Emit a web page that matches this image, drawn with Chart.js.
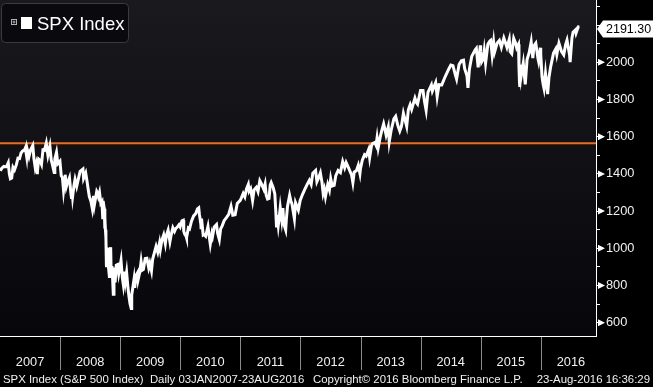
<!DOCTYPE html>
<html><head><meta charset="utf-8">
<script src="https://cdn.jsdelivr.net/npm/chart.js@4.4.0/dist/chart.umd.min.js"></script>
<style>html,body{margin:0;padding:0;background:#000;overflow:hidden}#wrap{width:653px;height:387px;position:relative}</style>
</head><body><div id="wrap"><canvas id="c" width="653" height="387"></canvas></div>
<script>
const dates = [
"2007-01-03","2007-01-12","2007-01-24","2007-01-31","2007-02-09","2007-02-20","2007-02-27","2007-03-05","2007-03-13","2007-03-21","2007-03-30","2007-04-10","2007-04-20","2007-04-30","2007-05-09","2007-05-18","2007-05-31","2007-06-04","2007-06-12","2007-06-15","2007-06-26","2007-07-06","2007-07-19","2007-07-26","2007-08-03","2007-08-09","2007-08-15","2007-08-16","2007-08-24","2007-08-31","2007-09-10","2007-09-19","2007-09-28","2007-10-09","2007-10-19","2007-10-31","2007-11-08","2007-11-15","2007-11-26","2007-11-30","2007-12-10","2007-12-18","2007-12-31",
"2008-01-08","2008-01-15","2008-01-22","2008-01-31","2008-02-01","2008-02-08","2008-02-14","2008-02-27","2008-03-07","2008-03-10","2008-03-13","2008-03-17","2008-03-26","2008-04-01","2008-04-11","2008-04-22","2008-05-02","2008-05-19","2008-05-23","2008-06-05","2008-06-13","2008-06-20","2008-06-27","2008-07-07","2008-07-15","2008-07-23","2008-07-28","2008-08-11","2008-08-15","2008-08-21","2008-08-28","2008-09-05","2008-09-12","2008-09-15","2008-09-17","2008-09-19","2008-09-26","2008-09-29","2008-09-30","2008-10-03","2008-10-06","2008-10-09","2008-10-10","2008-10-13","2008-10-16","2008-10-22","2008-10-27","2008-10-28","2008-11-04","2008-11-06","2008-11-12","2008-11-14","2008-11-20","2008-11-24","2008-11-28","2008-12-01","2008-12-08","2008-12-16","2008-12-23","2008-12-31",
"2009-01-06","2009-01-14","2009-01-20","2009-01-28","2009-02-02","2009-02-09","2009-02-17","2009-02-23","2009-03-02","2009-03-09","2009-03-12","2009-03-17","2009-03-26","2009-03-30","2009-04-09","2009-04-17","2009-04-20","2009-04-30","2009-05-08","2009-05-15","2009-05-22","2009-06-02","2009-06-12","2009-06-23","2009-06-30","2009-07-10","2009-07-17","2009-07-31","2009-08-07","2009-08-17","2009-08-28","2009-09-02","2009-09-11","2009-09-22","2009-10-02","2009-10-09","2009-10-19","2009-10-30","2009-11-06","2009-11-17","2009-11-27","2009-12-04","2009-12-14","2009-12-24","2009-12-31",
"2010-01-11","2010-01-19","2010-01-22","2010-01-29","2010-02-05","2010-02-08","2010-02-19","2010-02-26","2010-03-10","2010-03-23","2010-04-05","2010-04-15","2010-04-23","2010-04-27","2010-05-06","2010-05-07","2010-05-10","2010-05-20","2010-05-25","2010-06-04","2010-06-18","2010-06-29","2010-07-02","2010-07-12","2010-07-16","2010-07-26","2010-08-09","2010-08-16","2010-08-26","2010-09-03","2010-09-13","2010-09-24","2010-10-08","2010-10-22","2010-11-05","2010-11-16","2010-11-30","2010-12-13","2010-12-31",
"2011-01-07","2011-01-18","2011-01-28","2011-02-07","2011-02-18","2011-02-23","2011-03-04","2011-03-16","2011-03-25","2011-04-08","2011-04-18","2011-04-29","2011-05-09","2011-05-23","2011-05-31","2011-06-07","2011-06-15","2011-06-24","2011-07-01","2011-07-07","2011-07-19","2011-07-29","2011-08-04","2011-08-08","2011-08-10","2011-08-12","2011-08-19","2011-08-26","2011-08-31","2011-09-09","2011-09-16","2011-09-22","2011-10-03","2011-10-07","2011-10-14","2011-10-27","2011-11-04","2011-11-10","2011-11-25","2011-12-02","2011-12-19","2011-12-30",
"2012-01-13","2012-01-27","2012-02-10","2012-02-24","2012-03-06","2012-03-16","2012-04-02","2012-04-10","2012-04-20","2012-05-01","2012-05-11","2012-05-18","2012-05-25","2012-06-01","2012-06-15","2012-06-25","2012-07-03","2012-07-12","2012-07-24","2012-08-03","2012-08-17","2012-08-31","2012-09-14","2012-09-26","2012-10-05","2012-10-19","2012-11-07","2012-11-15","2012-11-23","2012-12-07","2012-12-18","2012-12-28","2012-12-31",
"2013-01-11","2013-01-25","2013-02-04","2013-02-19","2013-02-25","2013-03-08","2013-03-14","2013-03-28","2013-04-05","2013-04-11","2013-04-18","2013-04-30","2013-05-10","2013-05-21","2013-05-31","2013-06-05","2013-06-18","2013-06-24","2013-07-05","2013-07-22","2013-08-02","2013-08-15","2013-08-27","2013-09-06","2013-09-18","2013-10-08","2013-10-18","2013-10-29","2013-11-07","2013-11-27","2013-12-05","2013-12-13","2013-12-31",
"2014-01-15","2014-01-24","2014-02-03","2014-02-14","2014-03-07","2014-03-13","2014-04-02","2014-04-11","2014-04-22","2014-05-09","2014-05-30","2014-06-20","2014-07-03","2014-07-16","2014-07-31","2014-08-07","2014-08-22","2014-09-05","2014-09-18","2014-09-25","2014-10-09","2014-10-15","2014-10-24","2014-11-07","2014-11-28","2014-12-05","2014-12-16","2014-12-29","2014-12-31",
"2015-01-06","2015-01-16","2015-01-22","2015-01-30","2015-02-13","2015-02-25","2015-03-02","2015-03-11","2015-03-20","2015-03-26","2015-04-10","2015-04-24","2015-05-06","2015-05-21","2015-06-09","2015-06-23","2015-06-29","2015-07-08","2015-07-20","2015-07-31","2015-08-07","2015-08-18","2015-08-21","2015-08-24","2015-08-25","2015-08-27","2015-09-01","2015-09-16","2015-09-28","2015-10-09","2015-10-22","2015-11-03","2015-11-13","2015-11-20","2015-12-01","2015-12-14","2015-12-18","2015-12-29","2015-12-31",
"2016-01-08","2016-01-15","2016-01-20","2016-01-29","2016-02-05","2016-02-11","2016-02-19","2016-03-01","2016-03-18","2016-04-01","2016-04-07","2016-04-20","2016-05-06","2016-05-19","2016-05-31","2016-06-08","2016-06-16","2016-06-24","2016-06-27","2016-07-08","2016-07-15","2016-07-29","2016-08-02","2016-08-15","2016-08-23"
];
const closes = [
1416.6,1430.7,1440.1,1438.2,1438.1,1459.7,1399.0,1374.1,1377.9,1435.0,1420.9,1448.4,1484.4,1482.4,1512.6,1522.8,1530.6,1539.2,1493.0,1532.9,1492.9,1530.4,1553.1,1482.7,1433.1,1453.6,1406.7,1411.3,1479.4,1473.9,1451.7,1529.0,1526.8,1565.2,1500.6,1549.4,1474.8,1451.2,1407.2,1481.1,1516.0,1455.0,1468.4,
1390.2,1380.9,1310.5,1378.6,1395.4,1331.3,1348.9,1380.0,1293.4,1273.4,1315.5,1276.6,1341.1,1370.2,1332.8,1375.9,1413.9,1426.6,1375.9,1404.1,1360.0,1317.9,1278.4,1252.3,1214.9,1282.2,1234.4,1305.3,1298.2,1277.7,1300.7,1242.3,1251.7,1192.7,1156.4,1255.1,1213.3,1106.4,1166.4,1099.2,1056.9,909.9,899.2,1003.4,946.4,896.8,848.9,940.5,1005.8,904.9,852.3,873.3,752.4,851.8,896.2,816.2,909.7,913.2,863.2,903.3,
934.7,842.6,805.2,874.1,825.4,869.9,789.2,743.3,700.8,676.5,750.7,778.1,832.9,787.5,856.6,869.6,832.4,872.8,929.2,882.9,887.0,944.7,946.2,895.1,919.3,879.1,940.4,987.5,1010.5,979.7,1028.9,994.8,1042.7,1071.7,1025.2,1071.5,1097.9,1036.2,1069.3,1110.3,1091.5,1106.0,1114.1,1126.5,1115.1,
1147.0,1150.2,1091.8,1073.9,1066.2,1056.7,1109.2,1104.5,1145.6,1174.2,1187.4,1211.7,1217.3,1183.7,1128.2,1110.9,1159.7,1071.6,1074.0,1064.9,1117.5,1041.2,1022.6,1078.8,1064.9,1115.0,1127.8,1079.4,1047.2,1104.5,1121.9,1148.7,1165.2,1183.1,1225.9,1178.3,1180.6,1240.5,1257.6,
1271.5,1295.0,1276.3,1319.1,1343.0,1307.4,1321.2,1256.9,1313.8,1328.2,1305.1,1363.6,1346.3,1317.4,1345.2,1284.9,1265.4,1268.5,1339.7,1353.2,1326.7,1292.3,1200.1,1119.5,1120.8,1178.8,1123.5,1176.8,1218.9,1154.2,1216.0,1129.6,1099.2,1155.5,1224.6,1284.6,1253.2,1239.7,1158.7,1244.3,1205.4,1257.6,
1289.1,1316.3,1342.6,1365.7,1343.4,1404.2,1419.0,1358.6,1378.5,1405.8,1353.4,1295.2,1317.8,1278.0,1342.8,1313.7,1374.0,1334.8,1338.3,1391.0,1418.2,1406.6,1465.8,1433.3,1460.9,1433.2,1394.5,1353.3,1409.2,1418.1,1446.8,1402.4,1426.2,
1472.1,1503.0,1495.7,1530.9,1487.9,1551.2,1563.2,1569.2,1553.3,1593.4,1541.6,1597.6,1633.7,1669.2,1630.7,1608.9,1651.8,1573.1,1631.9,1695.5,1709.7,1661.3,1630.5,1655.2,1725.5,1655.5,1744.5,1771.9,1747.2,1807.2,1785.0,1775.3,1848.4,
1848.4,1790.3,1741.9,1838.6,1878.0,1846.3,1890.9,1815.7,1879.6,1878.5,1923.6,1962.9,1985.4,1981.6,1930.7,1909.6,1988.4,2007.7,2011.4,1966.0,1928.2,1862.5,1964.6,2031.9,2067.6,2075.4,1972.7,2090.6,2058.9,
2002.6,2019.4,2063.2,1995.0,2097.0,2113.9,2117.4,2040.2,2108.1,2056.2,2102.1,2117.7,2080.2,2130.8,2080.2,2124.2,2057.6,2046.7,2128.3,2103.8,2077.6,2096.9,1970.9,1893.2,1867.6,1987.7,1913.9,1995.3,1881.8,2014.9,2052.5,2109.8,2023.0,2089.2,2102.6,2021.9,2005.6,2078.4,2043.9,
1922.0,1880.3,1859.3,1940.2,1880.1,1829.1,1917.8,1978.4,2049.6,2072.8,2041.9,2102.4,2057.1,2040.0,2096.9,2119.1,2078.0,2037.4,2000.5,2129.9,2161.7,2173.6,2157.0,2190.2,2191.3
];
const yearLabels = ["2007","2008","2009","2010","2011","2012","2013","2014","2015","2016"];
const yearBoundaries = [2008,2009,2010,2011,2012,2013,2014,2015,2016];
const yTickValues = [600,700,800,900,1000,1100,1200,1300,1400,1500,1600,1700,1800,1900,2000,2100,2200,2300];
const yLabelValues = [600,800,1000,1200,1400,1600,1800,2000];
const refLevel = 1565.15;
const lastLabel = "2191.30";
const legendLabel = "SPX Index";
const footerLeft = "SPX Index (S&P 500 Index)  Daily 03JAN2007-23AUG2016";
const footerMid = "Copyright\u00A9 2016 Bloomberg Finance L.P.";
const footerRight = "23-Aug-2016 16:36:29";

// ---- helpers ----
function fracYear(s){
  const [y,m,d] = s.split('-').map(Number);
  const t0 = Date.UTC(y,0,1), t1 = Date.UTC(y+1,0,1);
  return y + (Date.UTC(y,m-1,d)-t0)/(t1-t0);
}
const X_MIN = 2007, X_MAX = 2016.917;
const points = dates.map((d,i)=>({x:fracYear(d), y:closes[i]}));
const FONT = "'Liberation Sans', Arial, sans-serif";

const decor = {
  id:'decor',
  beforeDraw(chart){
    const ctx = chart.ctx, a = chart.chartArea;
    ctx.save();
    ctx.fillStyle = '#000';
    ctx.fillRect(0,0,chart.width,chart.height);
    const g = ctx.createLinearGradient(0,a.top,0,a.bottom);
    g.addColorStop(0,'#1a1a1e');
    g.addColorStop(1,'#07070b');
    ctx.fillStyle = g;
    ctx.fillRect(a.left,a.top,a.right-a.left,a.bottom-a.top);
    ctx.restore();
  },
  afterDraw(chart){
    const ctx = chart.ctx, a = chart.chartArea;
    const xs = chart.scales.x, ys = chart.scales.y;
    ctx.save();
    // year separators
    ctx.strokeStyle = '#8a8a8a'; ctx.lineWidth = 1;
    yearBoundaries.forEach(v=>{
      const px = Math.round(xs.getPixelForValue(v))+0.5;
      ctx.beginPath(); ctx.moveTo(px,a.bottom); ctx.lineTo(px,a.bottom+34); ctx.stroke();
    });
    // triangles at major y ticks
    ctx.fillStyle = '#fff';
    yLabelValues.forEach(v=>{
      const py = ys.getPixelForValue(v);
      ctx.beginPath(); ctx.moveTo(a.right+2,py-3.5); ctx.lineTo(a.right+9,py); ctx.lineTo(a.right+2,py+3.5); ctx.closePath(); ctx.fill();
    });
    // last value box
    const lv = closes[closes.length-1];
    const ly = Math.round(ys.getPixelForValue(lv))+2;
    ctx.fillStyle = '#fff';
    ctx.beginPath();
    ctx.moveTo(a.right+1,ly); ctx.lineTo(a.right+7,ly-8.5); ctx.lineTo(chart.width,ly-8.5);
    ctx.lineTo(chart.width,ly+8.5); ctx.lineTo(a.right+7,ly+8.5); ctx.closePath(); ctx.fill();
    ctx.fillStyle = '#000'; ctx.font = '12.5px '+FONT; ctx.textBaseline='middle'; ctx.textAlign='left';
    ctx.fillText(lastLabel, a.right+10, ly+0.5);
    // legend box
    ctx.beginPath();
    const bx=1.5,by=3.5,bw=127,bh=39,r=4;
    ctx.moveTo(bx+r,by); ctx.lineTo(bx+bw-r,by); ctx.arcTo(bx+bw,by,bx+bw,by+r,r);
    ctx.lineTo(bx+bw,by+bh-r); ctx.arcTo(bx+bw,by+bh,bx+bw-r,by+bh,r);
    ctx.lineTo(bx+r,by+bh); ctx.arcTo(bx,by+bh,bx,by+bh-r,r);
    ctx.lineTo(bx,by+r); ctx.arcTo(bx,by,bx+r,by,r); ctx.closePath();
    ctx.fillStyle = '#0a0a0e'; ctx.fill();
    ctx.strokeStyle = '#3a3a3f'; ctx.lineWidth = 1; ctx.stroke();
    // plus icon
    ctx.strokeStyle = '#b0b0b0';
    ctx.strokeRect(11.5,19.5,5,5);
    ctx.beginPath(); ctx.moveTo(12.5,22); ctx.lineTo(15.5,22); ctx.moveTo(14,20.5); ctx.lineTo(14,23.5); ctx.stroke();
    ctx.fillStyle = '#fff'; ctx.fillRect(21,17,11,12);
    ctx.font = '18.5px '+FONT; ctx.textBaseline='alphabetic';
    ctx.fillText(legendLabel, 37, 30);
    // footer
    ctx.fillStyle = '#f0f0f0'; ctx.font = '11.4px '+FONT;
    ctx.fillText(footerLeft, 3, 383);
    ctx.fillText(footerMid, 313, 383);
    ctx.textAlign='right';
    ctx.fillText(footerRight, 650, 383);
    // frame lines
    ctx.strokeStyle='#fff'; ctx.lineWidth=1;
    ctx.beginPath(); ctx.moveTo(a.left,a.bottom+0.5); ctx.lineTo(a.right+0.5,a.bottom+0.5); ctx.lineTo(a.right+0.5,a.top); ctx.stroke();
    ctx.restore();
  }
};

new Chart(document.getElementById('c'), {
  type:'line',
  data:{datasets:[
    {data:points, borderColor:'#ffffff', borderWidth:3, pointRadius:0, tension:0, fill:false, order:1},
    {data:[{x:X_MIN,y:refLevel},{x:X_MAX,y:refLevel}], borderColor:'#f26a1b', borderWidth:2, pointRadius:0, fill:false, order:2}
  ]},
  options:{
    responsive:false, animation:false, devicePixelRatio:1,
    parsing:false, normalized:true,
    layout:{padding:0},
    plugins:{legend:{display:false}, tooltip:{enabled:false}},
    scales:{
      x:{type:'linear', position:'bottom', min:X_MIN, max:X_MAX,
        afterBuildTicks(s){ s.ticks = yearLabels.map((l,i)=>({value:X_MIN+0.5+i})); },
        ticks:{autoSkip:false, maxRotation:0, color:'#f0f0f0', font:{family:FONT,size:12.8}, padding:19,
          callback:(v,i)=>yearLabels[i]},
        grid:{display:false, drawTicks:false},
        border:{display:true, color:'#ffffff'},
        afterFit(s){ s.height=51; s.paddingLeft=0; s.paddingRight=0; }
      },
      y:{type:'linear', position:'right', min:528.5, max:2335,
        afterBuildTicks(s){ s.ticks = yTickValues.map(v=>({value:v})); },
        ticks:{autoSkip:false, color:'#f0f0f0', font:{family:FONT,size:12.8}, padding:6,
          callback:(v)=> yLabelValues.includes(v) ? String(v) : ''},
        grid:{drawOnChartArea:false, drawTicks:true, tickLength:4, color:'#ffffff'},
        border:{display:true, color:'#ffffff'},
        afterFit(s){ s.width=57; s.paddingTop=0; s.paddingBottom=0; }
      }
    }
  },
  plugins:[decor]
});
</script></body></html>
